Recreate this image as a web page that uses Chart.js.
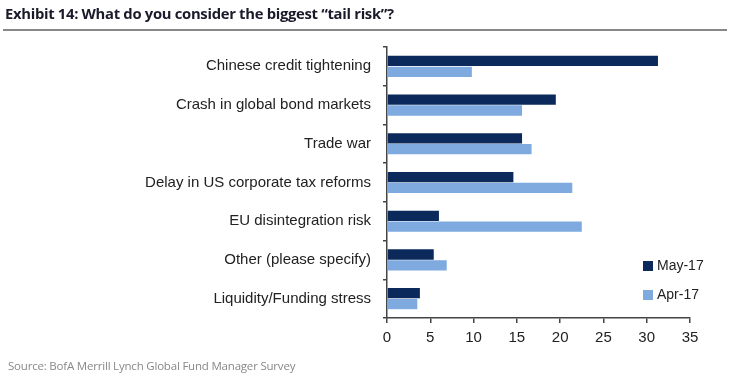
<!DOCTYPE html>
<html>
<head>
<meta charset="utf-8">
<script src="https://cdn.jsdelivr.net/npm/chart.js@4"></script>
<style>
  html, body { margin: 0; padding: 0; background: #fff; }
  #wrap { position: relative; width: 730px; height: 385px; overflow: hidden; }
  #title { position: absolute; left: 5px; top: 3px; font: bold 14.8px "Open Sans", sans-serif; color: #1a1a2a; letter-spacing: -0.3px; white-space: nowrap; }
  #rule { position: absolute; left: 3px; top: 29px; width: 724px; height: 1.5px; background: #888; }
  #src { position: absolute; left: 8px; top: 358px; font: 11.5px "Open Sans", sans-serif; color: #888; white-space: nowrap; letter-spacing: -0.2px; }
  canvas { position: absolute; left: 0; top: 0; }
  .lg { position: absolute; font: 14px "Liberation Sans", Arial, sans-serif; color: #222; white-space: nowrap; }
  .sw { display: inline-block; width: 10px; height: 10px; margin-right: 4px; vertical-align: -1px; }
</style>
</head>
<body>
<div id="wrap">
  <canvas id="c" width="730" height="385"></canvas>
  <div id="title">Exhibit 14: What do you consider the biggest “tail risk”?</div>
  <div id="rule"></div>
  <div class="lg" id="lg1" style="left:643px; top:257px;"><span class="sw" id="sw1"></span>May-17</div>
  <div class="lg" id="lg2" style="left:643px; top:286px;"><span class="sw" id="sw2"></span>Apr-17</div>
  <div id="src">Source: BofA Merrill Lynch Global Fund Manager Survey</div>
</div>
<script>
const categories = [
  "Chinese credit tightening",
  "Crash in global bond markets",
  "Trade war",
  "Delay in US corporate tax reforms",
  "EU disintegration risk",
  "Other (please specify)",
  "Liquidity/Funding stress"
];
const seriesNames = ["May-17", "Apr-17"];
const may17 = [31.3, 19.5, 15.6, 14.6, 6.0, 5.4, 3.8];
const apr17 = [9.8, 15.6, 16.7, 21.4, 22.5, 6.9, 3.5];
const xTicks = [0, 5, 10, 15, 20, 25, 30, 35];

const colMay = "#0b2a5b";
const colApr = "#7eaadf";
document.getElementById("sw1").style.background = colMay;
document.getElementById("sw2").style.background = colApr;

new Chart(document.getElementById("c"), {
  type: "bar",
  data: {
    labels: categories,
    datasets: [
      { label: seriesNames[0], data: may17, backgroundColor: colMay, barPercentage: 0.95, categoryPercentage: 0.56 },
      { label: seriesNames[1], data: apr17, backgroundColor: colApr, barPercentage: 0.95, categoryPercentage: 0.56 }
    ]
  },
  options: {
    indexAxis: "y",
    responsive: false,
    animation: false,
    events: [],
    layout: { padding: { top: 47, right: 40, left: 0, bottom: 0 } },
    plugins: { legend: { display: false }, tooltip: { enabled: false } },
    scales: {
      x: {
        min: xTicks[0], max: xTicks[xTicks.length - 1],
        afterBuildTicks: (s) => { s.ticks = xTicks.map(v => ({ value: v })); },
        border: { display: true, color: "#444", width: 1.5 },
        grid: { drawOnChartArea: false, drawTicks: true, tickLength: 5, color: "#444", lineWidth: 1.5 },
        ticks: { color: "#222", font: { family: "Liberation Sans", size: 15 }, padding: 6 },
        afterFit: (s) => { s.height = 385 - 318; }
      },
      y: {
        border: { display: true, color: "#444", width: 1.5 },
        grid: { drawOnChartArea: false, drawTicks: true, tickLength: 4, color: "#444", lineWidth: 1.5 },
        ticks: { color: "#222", font: { family: "Liberation Sans", size: 15 }, padding: 12 },
        afterFit: (s) => { s.width = 387; }
      }
    }
  }
});
</script>
</body>
</html>
